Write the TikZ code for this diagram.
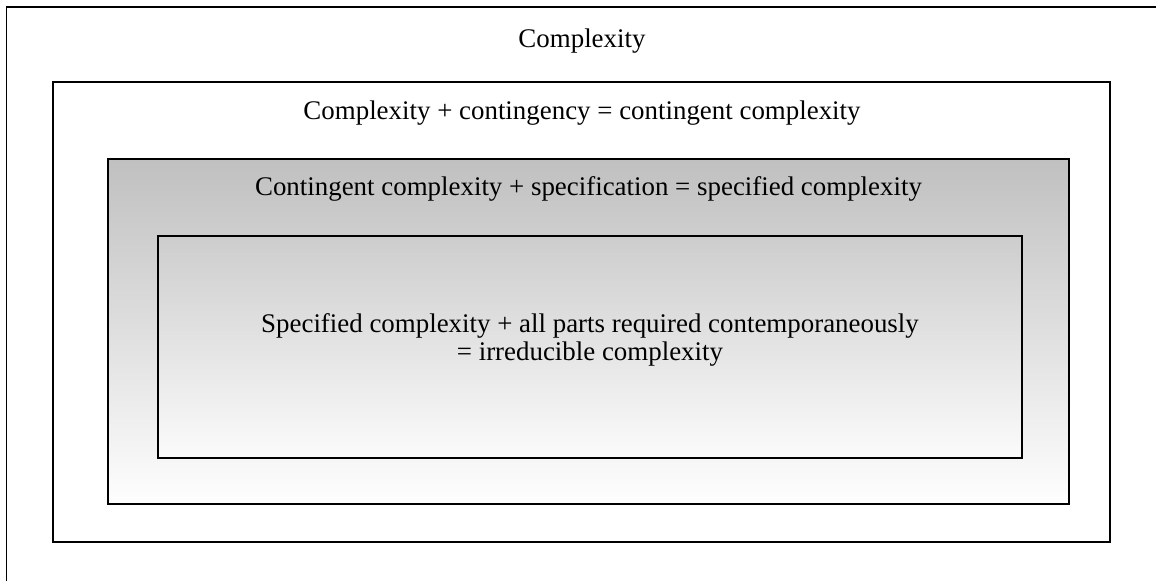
\documentclass[tikz,border=0pt]{standalone}
\usepackage{fontspec}
\setmainfont{Liberation Serif}
\definecolor{gtopA}{HTML}{C0C0C0}
\definecolor{gbotA}{HTML}{FEFEFE}
\definecolor{gtopB}{HTML}{CDCDCD}
\definecolor{gbotB}{HTML}{FBFBFB}
\begin{document}
\begin{tikzpicture}[x=0.5pt,y=-0.5pt,
  box/.style={draw=black,line width=0.9pt},
  lbl/.style={font=\fontsize{13.45}{13.8}\selectfont,align=center,inner sep=0pt}]
\useasboundingbox (0,0) rectangle (1156,580);
\clip (0,0) rectangle (1156,580);
\fill[white] (0,0) rectangle (1156,580);
\draw[box] (6.5,7) rectangle (1170,600);
\draw[box] (53,82) rectangle (1110,542);
\shade[top color=gtopA,bottom color=gbotA] (108,159) rectangle (1069,504);
\draw[box] (108,159) rectangle (1069,504);
\shade[top color=gtopB,bottom color=gbotB] (158,236) rectangle (1022,458);
\draw[box] (158,236) rectangle (1022,458);
\node[lbl] (t1) at (582,41) {Complexity};
\node[lbl] (t2) at (582,113) {Complexity + contingency = contingent complexity};
\node[lbl] (t3) at (588.5,189) {Contingent complexity + specification = specified complexity};
\node[lbl] (t4) at (590,340) {Specified complexity + all parts required contemporaneously\\= irreducible complexity};
\end{tikzpicture}
\end{document}
